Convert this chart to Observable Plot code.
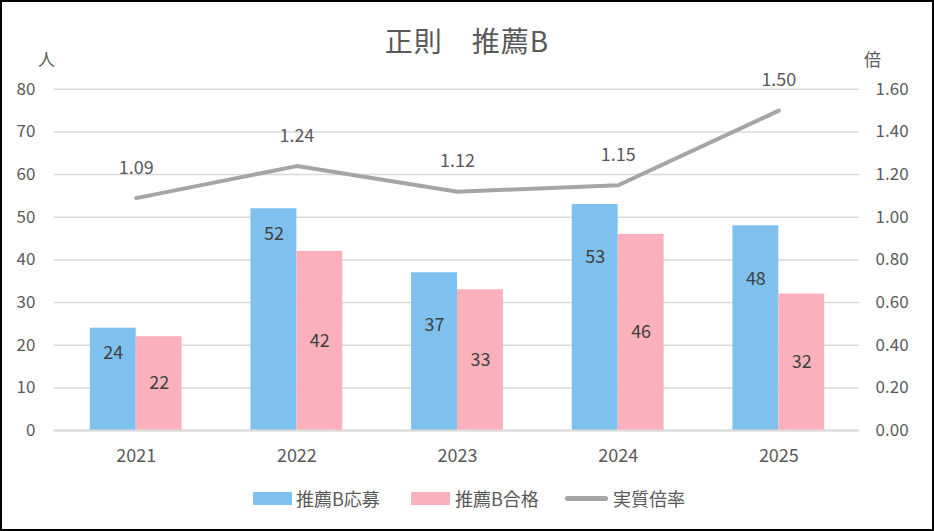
<!DOCTYPE html>
<html><head><meta charset="utf-8">
<script src="https://cdn.jsdelivr.net/npm/d3@7"></script>
<script src="https://cdn.jsdelivr.net/npm/@observablehq/plot@0.6"></script>
<style>
html,body{margin:0;padding:0;background:#fff;}
#wrap{position:relative;width:934px;height:531px;box-sizing:border-box;border:2px solid #000;overflow:hidden;font-family:"Noto Sans CJK JP","Noto Sans",sans-serif;color:#595959;}
#chart{position:absolute;left:-2px;top:-2px;}
.t{position:absolute;white-space:nowrap;}
#legend{position:absolute;top:484px;left:0;width:934px;height:24px;}
.sw{position:absolute;top:6px;width:39px;height:13px;}
.lt{position:absolute;top:0;font-size:18px;line-height:24px;color:#595959;}
</style></head>
<body>
<div id="wrap">
  <div class="t" style="left:-2px;width:934px;top:18px;text-align:center;font-size:28px;line-height:40px;letter-spacing:1px;">正則　推薦B</div>
  <div class="t" style="left:36px;top:44px;font-size:17px;">人</div>
  <div class="t" style="left:862px;top:44px;font-size:17px;">倍</div>
  <div id="chart"></div>
  <div id="legend">
    <div class="sw" style="left:251px;background:#7fc1ee"></div><div class="lt" style="left:294px">推薦B応募</div>
    <div class="sw" style="left:409px;background:#fbb1bb"></div><div class="lt" style="left:453px">推薦B合格</div>
    <div class="sw" style="left:563px;top:10px;width:43px;height:5px;border-radius:3px;background:#a5a5a5"></div><div class="lt" style="left:611px">実質倍率</div>
  </div>
</div>
<script>
const years = ["2021","2022","2023","2024","2025"];
const applicants = [24, 52, 37, 53, 48];
const passed = [22, 42, 33, 46, 32];
const ratio = [1.09, 1.24, 1.12, 1.15, 1.50];
const leftTicks = [0,10,20,30,40,50,60,70,80];
// label placement (style): offset of blue labels below bar top, px
const blueLabelOffset = [25, 26, 53, 53, 54];

const scaleK = 50; // 80 people <-> 1.60 ratio
const rows = years.map((y,i)=>({year:y, a:applicants[i], p:passed[i], r:ratio[i], r50:ratio[i]*scaleK, off:blueLabelOffset[i]}));

const W = 934, H = 484;
const FF = '"Noto Sans CJK JP","Noto Sans",sans-serif';
const chart = Plot.plot({
  width: W, height: H,
  marginTop: 89, marginBottom: H-431, marginLeft: 54, marginRight: W-861,
  style:{fontFamily:FF, fontSize:"17px", color:"#595959", background:"transparent"},
  x:{type:"band", domain: years, paddingInner:0.43, paddingOuter:0.215, label:null},
  y:{domain:[0,80], label:null},
  marks:[
    Plot.gridY(leftTicks, {stroke:"#d9d9d9", strokeOpacity:1, strokeWidth:1.5}),
    Plot.barY(rows, {x:"year", y:"a", fill:"#7fc1ee", insetRight:46}),
    Plot.barY(rows, {x:"year", y:"p", fill:"#fbb1bb", insetLeft:46}),
    Plot.ruleY([0], {stroke:"#d9d9d9", strokeWidth:2}),
    Plot.axisY({anchor:"left", ticks:leftTicks, tickSize:0, tickPadding:19, label:null, fontSize:17}),
    Plot.axisY({anchor:"right", ticks:leftTicks, tickSize:0, tickPadding:16, label:null, fontSize:17,
      tickFormat: d => (d/scaleK).toFixed(2)}),
    Plot.axisX({anchor:"bottom", tickSize:0, tickPadding:19, label:null, fontSize:18}),
    Plot.text(rows, {x:"year", y:"a", text:d=>String(d.a), dx:-23, dy:0, fill:"#404040", fontSize:18,
      render:(index, scales, values, dims, ctx, next)=>{
        const g = next(index, scales, values, dims, ctx);
        d3.select(g).selectAll("text").each(function(_,k){
          const i = index[k];
          const t = d3.select(this);
          const tr = t.attr("transform") || "";
          const m = tr.match(/translate\(([^,]+),([^)]+)\)/);
          if (m) t.attr("transform", `translate(${m[1]},${+m[2] + rows[i].off})`);
          else t.attr("y", +t.attr("y") + rows[i].off);
        });
        return g;
      }}),
    Plot.text(rows, {x:"year", y:d=>d.p/2, text:d=>String(d.p), dx:23, fill:"#404040", fontSize:18}),
    Plot.line(rows, {x:"year", y:"r50", stroke:"#a5a5a5", strokeWidth:4, strokeLinecap:"round", strokeLinejoin:"round"}),
    Plot.text(rows, {x:"year", y:"r50", text:d=>d.r.toFixed(2), dy:-30, fill:"#595959", fontSize:18})
  ]
});
document.getElementById("chart").appendChild(chart);
</script>
</body></html>
